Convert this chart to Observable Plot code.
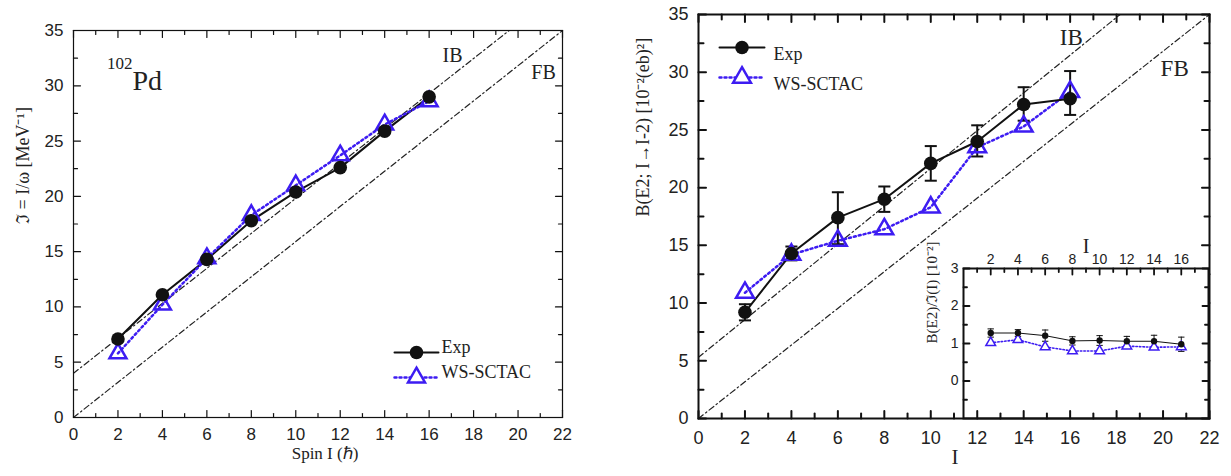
<!DOCTYPE html>
<html><head><meta charset="utf-8">
<script src="https://cdn.jsdelivr.net/npm/d3@7"></script>
<script src="https://cdn.jsdelivr.net/npm/@observablehq/plot@0.6"></script>
<style>
body{margin:0;background:#fff;}
#wrap{position:relative;width:1231px;height:476px;overflow:hidden;background:#fff;}
#wrap > svg{position:absolute;}
</style></head><body><div id="wrap"></div>
<script>
// ---------- data ----------
const spins = [2, 4, 6, 8, 10, 12, 14, 16];
// left panel: moment of inertia J = I/omega [MeV^-1]
const momExp = [7.1, 11.1, 14.3, 17.8, 20.4, 22.6, 25.9, 29.0];
const momWS  = [5.8, 10.2, 14.4, 18.3, 21.0, 23.7, 26.5, 28.6];
// right panel: B(E2; I->I-2) [10^-2 (eb)^2]
const be2Exp   = [9.2, 14.3, 17.4, 19.0, 22.1, 24.0, 27.2, 27.7];
const be2ExpLo = [8.5, 13.7, 15.1, 17.9, 20.6, 22.7, 25.8, 26.3];
const be2ExpHi = [9.9, 14.9, 19.6, 20.1, 23.6, 25.4, 28.7, 30.1];
const be2WS    = [10.9, 14.2, 15.4, 16.4, 18.3, 23.5, 25.3, 28.3];
// inset: B(E2)/J(I) [10^-2]
const ratioExp    = [1.28, 1.28, 1.21, 1.07, 1.08, 1.06, 1.06, 0.98];
const ratioExpErr = [0.11, 0.09, 0.15, 0.11, 0.13, 0.13, 0.16, 0.19];
const ratioWS     = [1.02, 1.10, 0.91, 0.80, 0.80, 0.93, 0.90, 0.91];
// reference lines (IB / FB limits), end points
const ibLeft  = [[0, 4.0], [19.6, 35]];
const fbLeft  = [[0, 0], [22, 35]];
const ibRight = [[0, 5.3], [18.15, 35]];
const fbRight = [[0, 0], [22, 35]];
// tick values
const mainXMajor = [0, 2, 4, 6, 8, 10, 12, 14, 16, 18, 20, 22];
const mainXMinor = [1, 3, 5, 7, 9, 11, 13, 15, 17, 19, 21];
const mainYMajor = [0, 5, 10, 15, 20, 25, 30, 35];
const mainYMinor = [2.5, 7.5, 12.5, 17.5, 22.5, 27.5, 32.5];
const insetXMajor = [2, 4, 6, 8, 10, 12, 14, 16];
const insetXMinor = [1, 3, 5, 7, 9, 11, 13, 15, 17];
const insetYMajor = [0, 1, 2, 3];
const insetYMinor = [-0.5, 0.5, 1.5, 2.5];
const labels = {
  leftY: "ℑ = I/ω [MeV⁻¹]",
  leftX: "Spin I (ℏ)",
  rightY: "B(E2; I→I-2) [10⁻²(eb)²]",
  rightX: "I",
  insetY: "B(E2)/ℑ(I) [10⁻²]",
  insetX: "I",
  exp: "Exp",
  ws: "WS-SCTAC"
};

// ---------- helpers ----------
const serif = "'Liberation Serif','Times New Roman',serif";
const sans = "'Liberation Sans',Arial,sans-serif";
const BLUE = "#3d1cf2";
const INK = "#111";
const fmt = d => String(d);
const lineShape = {draw(ctx, l) { ctx.moveTo(0, 0); ctx.lineTo(0, -l); }};
const capSymbol = {draw(ctx, size) { const w = Math.sqrt(size); ctx.moveTo(-w, 0); ctx.lineTo(w, 0); }};
const rows = (ys) => spins.map((x, i) => ({x, y: ys[i]}));
const seg = (pts) => pts.map(([x, y]) => ({x, y}));

function boxTicks({xDom, yDom, xMajor, xMinor, yMajor, yMinor, major, minor, sw, sides}) {
  const c = {anchor: "start", shape: lineShape, stroke: INK, strokeWidth: sw};
  const m = [];
  const add = (vals, len, opts) => m.push(Plot.vector(vals, {...c, ...opts, length: len}));
  if (sides.includes("bottom")) { add(xMajor, major, {x: d => d, y: yDom[0], rotate: 0}); add(xMinor, minor, {x: d => d, y: yDom[0], rotate: 0}); }
  if (sides.includes("top")) { add(xMajor, major, {x: d => d, y: yDom[1], rotate: 180}); add(xMinor, minor, {x: d => d, y: yDom[1], rotate: 180}); }
  if (sides.includes("left")) { add(yMajor, major, {x: xDom[0], y: d => d, rotate: 90}); add(yMinor, minor, {x: xDom[0], y: d => d, rotate: 90}); }
  if (sides.includes("right")) { add(yMajor, major, {x: xDom[1], y: d => d, rotate: 270}); add(yMinor, minor, {x: xDom[1], y: d => d, rotate: 270}); }
  return m;
}
const refLine = (pts) => Plot.line(seg(pts), {x: "x", y: "y", stroke: "#222", strokeWidth: 1.2, strokeDasharray: "6,3,1.5,3", clip: true});

const wrap = document.getElementById("wrap");
function place(svg, left, top) { svg.style.left = left + "px"; svg.style.top = top + "px"; wrap.appendChild(svg); }

// ---------- left panel ----------
const left = Plot.plot({
  width: 600, height: 476,
  marginLeft: 73, marginRight: 38, marginTop: 30, marginBottom: 59,
  style: {background: "white", fontFamily: sans, fontSize: "17px", color: "#222", overflow: "visible"},
  x: {domain: [0, 22]},
  y: {domain: [0, 35]},
  marks: [
    refLine(ibLeft), refLine(fbLeft),
    Plot.line(rows(momExp), {x: "x", y: "y", stroke: INK, strokeWidth: 2}),
    Plot.line(rows(momWS), {x: "x", y: "y", stroke: BLUE, strokeWidth: 2.5, strokeDasharray: "2,3"}),
    Plot.dot(rows(momWS), {x: "x", y: "y", symbol: "triangle", r: 6.3, stroke: BLUE, fill: "none", strokeWidth: 2.5}),
    Plot.dot(rows(momExp), {x: "x", y: "y", r: 6.8, fill: INK}),
    Plot.frame({stroke: INK, strokeWidth: 1.2}),
    ...boxTicks({xDom: [0, 22], yDom: [0, 35], xMajor: mainXMajor, xMinor: mainXMinor, yMajor: mainYMajor, yMinor: mainYMinor, major: 7, minor: 4, sw: 1.2, sides: ["bottom", "top", "left", "right"]}),
    Plot.axisX({ticks: mainXMajor, tickFormat: fmt, tickSize: 0, tickPadding: 10, label: null}),
    Plot.axisY({ticks: mainYMajor, tickFormat: fmt, tickSize: 0, tickPadding: 10, label: null}),
    Plot.text([labels.leftY], {text: d => d, frameAnchor: "left", dx: -50, rotate: -90, fontFamily: serif, fontSize: 18, fill: "#222"}),
    Plot.text([labels.leftX], {text: d => d, frameAnchor: "bottom", dx: 7, dy: 41, fontFamily: serif, fontSize: 17, fill: "#222"}),
    Plot.text(["IB"], {text: d => d, x: 17.05, y: 32.7, fontFamily: serif, fontSize: 20, fill: "#222"}),
    Plot.text(["FB"], {text: d => d, x: 21.15, y: 31.2, fontFamily: serif, fontSize: 20, fill: "#222"}),
    Plot.text(["102"], {text: d => d, x: 2.65, y: 32.0, textAnchor: "end", fontFamily: serif, fontSize: 17, fill: "#222"}),
    Plot.text(["Pd"], {text: d => d, x: 2.65, y: 30.4, textAnchor: "start", fontFamily: serif, fontSize: 28, fill: "#222"}),
    // legend
    Plot.vector([0], {frameAnchor: "bottom-right", dx: -168, dy: -65, rotate: 90, length: 44, anchor: "start", shape: lineShape, stroke: INK, strokeWidth: 2}),
    Plot.dot([0], {frameAnchor: "bottom-right", dx: -146, dy: -65, r: 6.8, fill: INK}),
    Plot.text([labels.exp], {text: d => d, frameAnchor: "bottom-right", dx: -121, dy: -65, textAnchor: "start", fontFamily: serif, fontSize: 18, fill: "#222"}),
    Plot.vector([0], {frameAnchor: "bottom-right", dx: -168, dy: -40, rotate: 90, length: 44, anchor: "start", shape: lineShape, stroke: BLUE, strokeWidth: 2.5, strokeDasharray: "2,3"}),
    Plot.dot([0], {frameAnchor: "bottom-right", dx: -146, dy: -40, symbol: "triangle", r: 6.3, stroke: BLUE, fill: "white", strokeWidth: 2.5}),
    Plot.text([labels.ws], {text: d => d, frameAnchor: "bottom-right", dx: -121, dy: -40, textAnchor: "start", fontFamily: serif, fontSize: 18, fill: "#222"})
  ]
});
place(left, 0, 0);

// ---------- right panel ----------
const errRows = spins.map((x, i) => ({x, lo: be2ExpLo[i], hi: be2ExpHi[i]}));
const right = Plot.plot({
  width: 611, height: 476,
  marginLeft: 78, marginRight: 22, marginTop: 14, marginBottom: 58,
  style: {background: "white", fontFamily: sans, fontSize: "17px", color: "#222", overflow: "visible"},
  x: {domain: [0, 22]},
  y: {domain: [0, 35]},
  marks: [
    refLine(ibRight), refLine(fbRight),
    Plot.line(rows(be2WS), {x: "x", y: "y", stroke: BLUE, strokeWidth: 2.5, strokeDasharray: "2,3"}),
    Plot.line(rows(be2Exp), {x: "x", y: "y", stroke: INK, strokeWidth: 2}),
    Plot.ruleX(errRows, {x: "x", y1: "lo", y2: "hi", stroke: INK, strokeWidth: 2}),
    Plot.dot(errRows, {x: "x", y: "lo", symbol: capSymbol, r: 3.4, stroke: INK, fill: "none", strokeWidth: 2}),
    Plot.dot(errRows, {x: "x", y: "hi", symbol: capSymbol, r: 3.4, stroke: INK, fill: "none", strokeWidth: 2}),
    Plot.dot(rows(be2WS), {x: "x", y: "y", symbol: "triangle", r: 6.6, stroke: BLUE, fill: "none", strokeWidth: 2.5}),
    Plot.dot(rows(be2Exp), {x: "x", y: "y", r: 6.8, fill: INK}),
    Plot.frame({stroke: INK, strokeWidth: 2}),
    ...boxTicks({xDom: [0, 22], yDom: [0, 35], xMajor: mainXMajor, xMinor: mainXMinor, yMajor: mainYMajor, yMinor: mainYMinor, major: 7.5, minor: 5, sw: 2, sides: ["bottom", "top", "left", "right"]}),
    Plot.axisX({ticks: mainXMajor, tickFormat: fmt, tickSize: 0, tickPadding: 13, label: null, fontSize: 18}),
    Plot.axisY({ticks: mainYMajor, tickFormat: fmt, tickSize: 0, tickPadding: 10, label: null, fontSize: 18}),
    Plot.text([labels.rightY], {text: d => d, frameAnchor: "left", dx: -55, rotate: -90, fontFamily: serif, fontSize: 18, fill: "#222"}),
    Plot.text([labels.rightX], {text: d => d, frameAnchor: "bottom", dx: 1, dy: 45, fontFamily: serif, fontSize: 21, fill: "#222"}),
    Plot.text(["IB"], {text: d => d, x: 16.05, y: 33.0, fontFamily: serif, fontSize: 23, fill: "#222"}),
    Plot.text(["FB"], {text: d => d, x: 20.5, y: 30.3, fontFamily: serif, fontSize: 23, fill: "#222"}),
    // legend
    Plot.vector([0], {frameAnchor: "top-left", dx: 21, dy: 33, rotate: 90, length: 45, anchor: "start", shape: lineShape, stroke: INK, strokeWidth: 2}),
    Plot.dot([0], {frameAnchor: "top-left", dx: 43.5, dy: 33, r: 6.8, fill: INK}),
    Plot.text([labels.exp], {text: d => d, frameAnchor: "top-left", dx: 75, dy: 33, textAnchor: "start", fontFamily: serif, fontSize: 18, fill: "#222"}),
    Plot.vector([0], {frameAnchor: "top-left", dx: 21, dy: 63, rotate: 90, length: 45, anchor: "start", shape: lineShape, stroke: BLUE, strokeWidth: 2.5, strokeDasharray: "2,3"}),
    Plot.dot([0], {frameAnchor: "top-left", dx: 43.5, dy: 63, symbol: "triangle", r: 6.6, stroke: BLUE, fill: "white", strokeWidth: 2.5}),
    Plot.text([labels.ws], {text: d => d, frameAnchor: "top-left", dx: 75, dy: 63, textAnchor: "start", fontFamily: serif, fontSize: 18, fill: "#222"})
  ]
});
place(right, 620, 0);

// ---------- inset ----------
const ratioRows = spins.map((x, i) => ({x, y: ratioExp[i], lo: ratioExp[i] - ratioExpErr[i], hi: ratioExp[i] + ratioExpErr[i]}));
const inset = Plot.plot({
  width: 331, height: 188,
  marginLeft: 63, marginRight: 23, marginTop: 38, marginBottom: 0,
  style: {background: "transparent", fontFamily: sans, fontSize: "14px", color: "#222", overflow: "visible"},
  x: {domain: [0, 18]},
  y: {domain: [-1, 3]},
  marks: [
    Plot.frame({fill: "white", stroke: null, insetBottom: 9}),
    Plot.line(rows(ratioWS), {x: "x", y: "y", stroke: BLUE, strokeWidth: 1.6, strokeDasharray: "1.5,2"}),
    Plot.line(ratioRows, {x: "x", y: "y", stroke: INK, strokeWidth: 1}),
    Plot.ruleX(ratioRows, {x: "x", y1: "lo", y2: "hi", stroke: INK, strokeWidth: 1}),
    Plot.dot(ratioRows, {x: "x", y: "lo", symbol: capSymbol, r: 1.8, stroke: INK, fill: "none", strokeWidth: 1}),
    Plot.dot(ratioRows, {x: "x", y: "hi", symbol: capSymbol, r: 1.8, stroke: INK, fill: "none", strokeWidth: 1}),
    Plot.dot(rows(ratioWS), {x: "x", y: "y", symbol: "triangle", r: 3.6, stroke: BLUE, fill: "white", strokeWidth: 1.5}),
    Plot.dot(ratioRows, {x: "x", y: "y", r: 3.2, fill: INK}),
    Plot.frame({stroke: INK, strokeWidth: 2}),
    ...boxTicks({xDom: [0, 18], yDom: [-1, 3], xMajor: insetXMajor, xMinor: insetXMinor, yMajor: insetYMajor, yMinor: insetYMinor, major: 6, minor: 3.5, sw: 1.8, sides: ["top", "left", "right"]}),
    Plot.axisX({anchor: "top", ticks: insetXMajor, tickFormat: fmt, tickSize: 0, tickPadding: 5, label: null}),
    Plot.axisY({ticks: insetYMajor, tickFormat: fmt, tickSize: 0, tickPadding: 5, label: null}),
    Plot.text([labels.insetY], {text: d => d, frameAnchor: "left", dx: -31, rotate: -90, fontFamily: serif, fontSize: 15, fill: "#222"}),
    Plot.text([labels.insetX], {text: d => d, frameAnchor: "top", dy: -30, fontFamily: serif, fontSize: 20, fill: "#222"})
  ]
});
place(inset, 900, 230);
</script></body></html>
